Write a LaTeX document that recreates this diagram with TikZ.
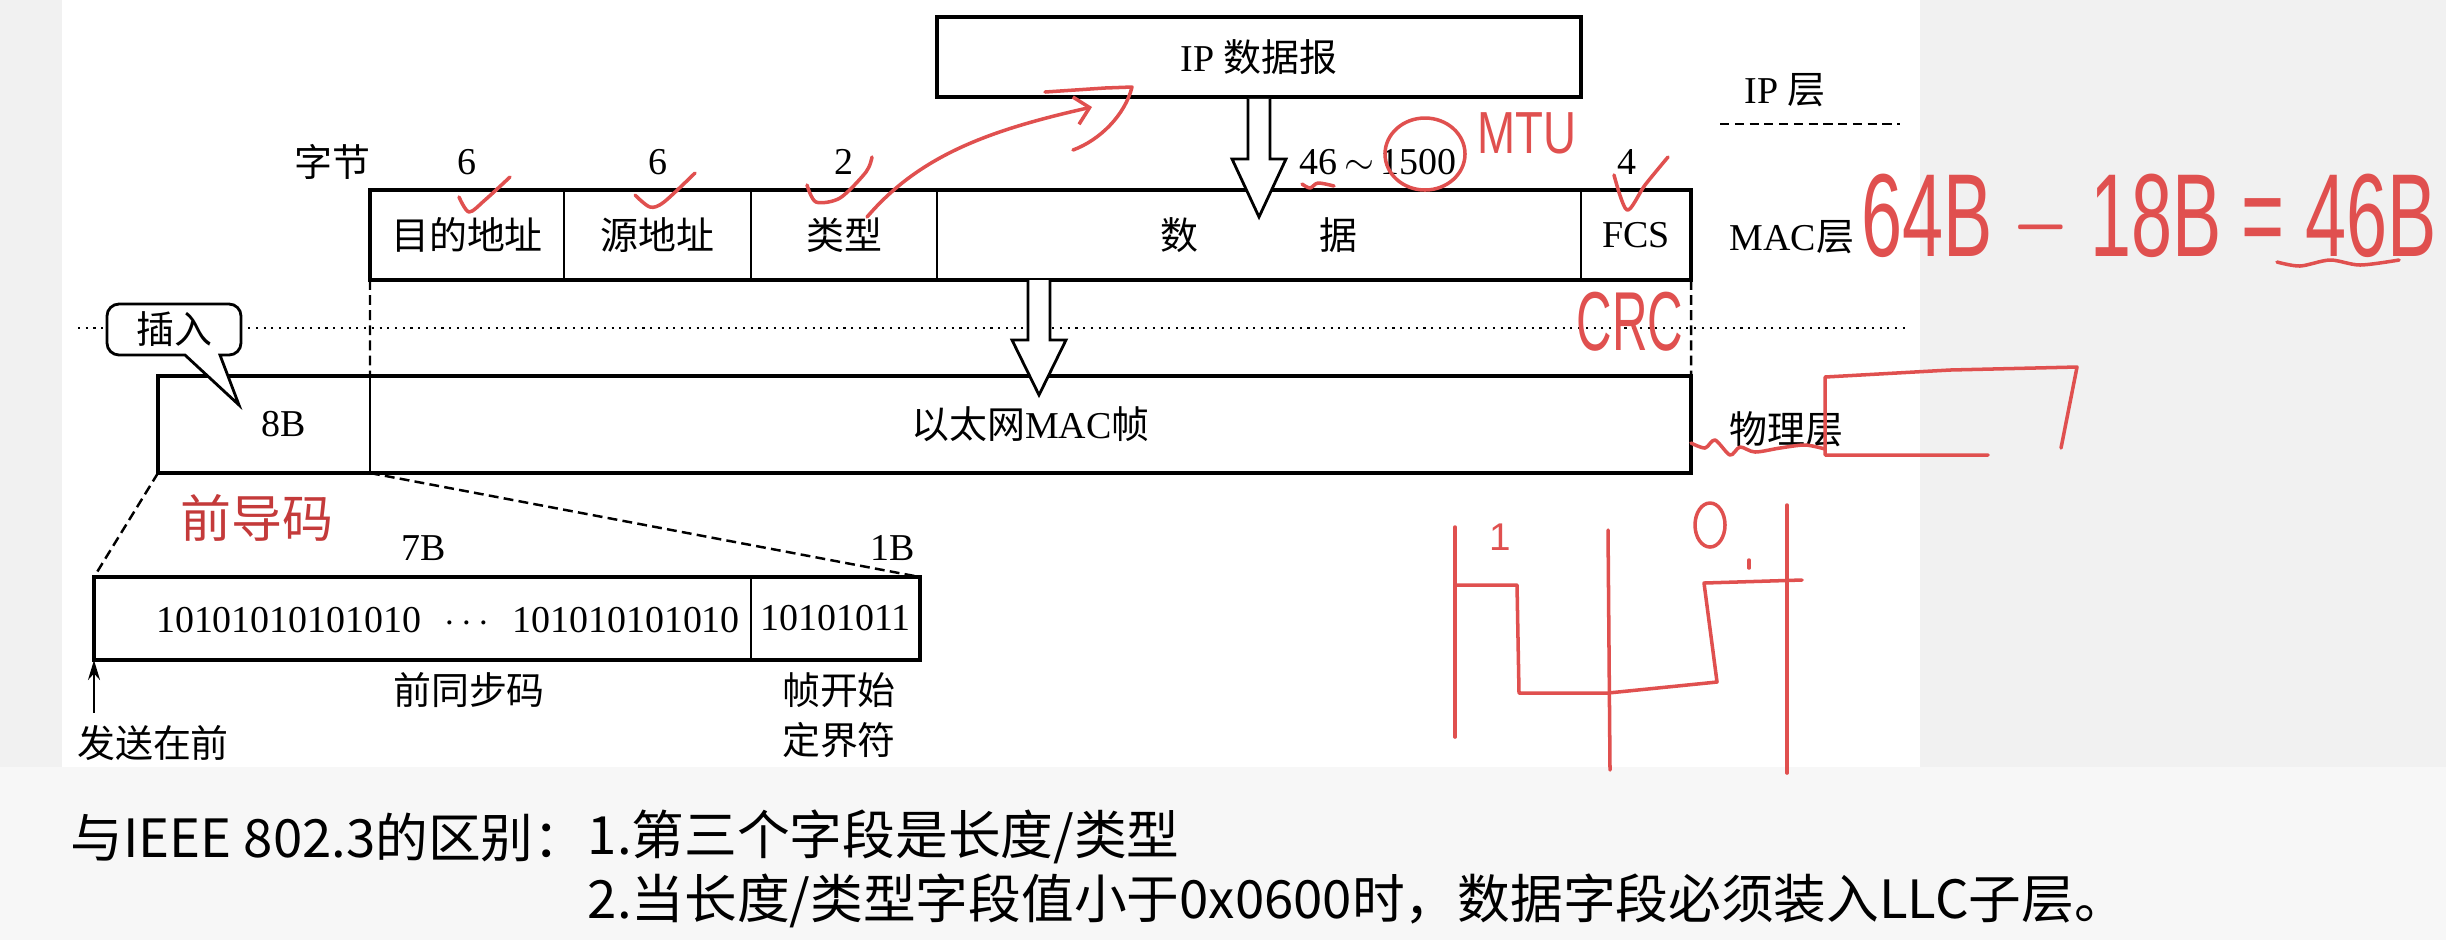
\documentclass[tikz,border=0pt]{standalone}
\usepackage{fontspec}
\setmainfont{Liberation Serif}
\newfontfamily\cjk{Noto Sans CJK SC}
\newfontfamily\hand{Liberation Sans}
\usepackage{graphicx}
\usepackage{tikz}
\usetikzlibrary{positioning,calc,arrows.meta}

\definecolor{sidegray}{HTML}{F1F1F1}
\definecolor{lowgray}{HTML}{F7F7F7}
\definecolor{pen}{HTML}{E0504F}
\definecolor{titlered}{HTML}{C43A3A}

\tikzset{
  field/.style={draw, line width=0.6pt, minimum height=0.9cm, inner sep=0pt, outer sep=0pt, anchor=west},
  frame/.style={draw, line width=1.2pt},
  fat/.style={draw, fill=white, line width=0.8pt, line join=miter},
  guide/.style={line width=0.7pt, dash pattern=on 2.8pt off 1.5pt},
  layerline/.style={line width=0.8pt, dash pattern=on 2.6pt off 1.6pt},
  dots/.style={line width=0.7pt, dash pattern=on 0.6pt off 1.6pt},
  redpen/.style={pen, line width=1pt, line cap=round, line join=round},
  note/.style={inner sep=0pt, font=\cjk\fontsize{15pt}{17pt}\selectfont, anchor=west},
}

\begin{document}
\begin{tikzpicture}[font=\fontsize{10.8pt}{13pt}\selectfont]

        % Page background
        \fill[sidegray] (0,0) rectangle (24.46,-9.40);
        \fill[lowgray] (0,-7.67) rectangle (24.46,-9.40);
        \fill[white] (0.62,0) rectangle (19.20,-7.67);
        \useasboundingbox (0,0) rectangle (24.46,-9.40);

        % IP datagram
        \node[draw, line width=1.1pt, minimum width=6.44cm, minimum height=0.80cm] (ip) at (12.59,-0.57) {IP {\cjk 数据报}};

        % Layer names
        \node (iplayer) at (17.85,-0.90) {IP {\cjk 层}};
        \draw[layerline] (17.20,-1.24) -- (19.00,-1.24);
        \node (maclayer) at (17.92,-2.37) {MAC{\cjk 层}};
        \node (phylayer) at (17.86,-4.29) {\cjk 物理层};

        % MAC frame fields
        \node[field, minimum width=1.94cm] (dst) at (3.70,-2.35) {\cjk 目的地址};
        \node[field, minimum width=1.87cm, right=0pt of dst] (src) {\cjk 源地址};
        \node[field, minimum width=1.86cm, right=0pt of src] (typ) {\cjk 类型};
        \node[field, minimum width=6.44cm, right=0pt of typ] (data) {\cjk 数\hspace{3.2em}据};
        \node[field, minimum width=1.10cm, right=0pt of data] (fcs) {FCS};
        \draw[frame] (dst.north west) rectangle (fcs.south east);

        % Byte counts
        \node (bytes) at (3.32,-1.62) {\cjk 字节};
        \node (ndst) at (dst |- bytes) {6};
        \node (nsrc) at (src |- bytes) {6};
        \node (ntyp) at (typ |- bytes) {2};
        \node (ndata) at (13.78,-1.62) {46$\,\sim\,$1500};
        \node (nfcs) at (16.27,-1.62) {4};

        % Boundary between MAC and physical layer
        \draw[dots] (0.78,-3.28) -- (19.10,-3.28);

        % Physical layer frame
        \node[field, minimum width=2.12cm, minimum height=0.97cm] (pre8) at (1.58,-4.245) {\hspace{0.40cm}8B};
        \node[field, minimum width=13.21cm, minimum height=0.97cm, right=0pt of pre8] (frame) {{\cjk 以太网}MAC{\cjk 帧}};
        \draw[frame] (pre8.north west) rectangle (frame.south east);
        \draw[guide] (dst.south west) -- (frame.north west);
        \draw[guide] (fcs.south east) -- (frame.north east);

        % Hollow arrows
        \draw[fat] ($(ip.south)+(-0.11,0)$) -- ++(0,-0.60) -- ++(-0.16,0) -- ++(0.27,-0.58) -- ++(0.27,0.58) -- ++(-0.16,0) -- ++(0,0.60);
        \draw[fat] ($(data.south west)+(0.91,0)$) -- ++(0,-0.60) -- ++(-0.16,0) -- ++(0.27,-0.55) -- ++(0.27,0.55) -- ++(-0.16,0) -- ++(0,0.60);

        % Insert callout
        \draw[fill=white, line width=0.8pt, rounded corners=0.12cm] (1.85,-3.55) -- (1.07,-3.55) -- (1.07,-3.04) -- (2.41,-3.04) -- (2.41,-3.55) [sharp corners] -- (2.20,-3.55) -- (2.39,-4.05) -- cycle;
        \node (ins) at (1.74,-3.29) {\cjk 插入};

        % Preamble
        \node[field, minimum width=6.57cm, minimum height=0.83cm] (sync) at (0.94,-6.185) {};
        \node[field, minimum width=1.69cm, minimum height=0.83cm, right=0pt of sync] (sfd) {10101011};
        \draw[frame] (sync.north west) rectangle (sfd.south east);
        \node (bits) at (4.48,-6.20) {10101010101010\hspace{0.6em}$\cdots$\hspace{0.6em}101010101010};
        \draw[guide] (pre8.south west) -- (sync.north west);
        \draw[guide] (pre8.south east) -- (sfd.north east);

        \node (n7) at (4.24,-5.48) {7B};
        \node (n1) at (8.93,-5.48) {1B};
        \node (syncname) at (4.69,-6.90) {\cjk 前同步码};
        \node[align=center, font=\fontsize{10.8pt}{14.2pt}\selectfont] (sfdname) at (8.39,-7.15) {\cjk 帧开始\\\cjk 定界符};
        \node (send) at (1.53,-7.43) {\cjk 发送在前};
        \draw[line width=0.6pt, -{Stealth[length=0.2cm, width=0.12cm]}] (sync.south west |- send.north) -- (sync.south west);

        \node[text=titlered, font=\cjk\fontsize{14.5pt}{16pt}\selectfont] (pretitle) at (2.57,-5.18) {前导码};

        % Differences from IEEE 802.3
        \node[note] (diff) at (0.70,-8.37) {与IEEE 802.3的区别：};
        \node[note, right=0pt of diff] (d1) {1.第三个字段是长度/类型};
        \node[note] (d2) at ($(d1.west)+(0,-0.64)$) {2.当长度/类型字段值小于0x0600时，数据字段必须装入LLC子层。};

        % Handwritten marks
        \draw[redpen] plot[smooth] coordinates {(4.59,-1.97) (4.69,-2.12) (4.85,-2.00) (5.10,-1.77)};
        \draw[redpen] plot[smooth] coordinates {(6.35,-1.95) (6.50,-2.07) (6.64,-2.02) (6.95,-1.73)};
        \draw[redpen] plot[smooth] coordinates {(8.07,-1.85) (8.16,-2.02) (8.40,-1.98) (8.66,-1.72) (8.72,-1.57)};
        \draw[redpen] plot[smooth] coordinates {(16.14,-1.75) (16.27,-2.10) (16.45,-1.85) (16.68,-1.57)};
        \draw[redpen, -{Straight Barb[length=0.14cm]}] (8.67,-2.17) .. controls (9.20,-1.55) and (9.90,-1.30) .. (10.92,-1.07);
        \draw[redpen] (10.45,-0.92) -- (11.05,-0.88) -- (11.32,-0.87) .. controls (11.25,-1.15) and (11.00,-1.40) .. (10.73,-1.50);
        \draw[redpen] (14.25,-1.54) ellipse [x radius=0.40, y radius=0.36];
        \draw[redpen] plot[smooth] coordinates {(13.02,-1.84) (13.10,-1.88) (13.18,-1.83) (13.34,-1.86)};
        \node[text=pen, font=\hand\fontsize{13pt}{13pt}\selectfont] (mtu) at (15.27,-1.33) {\scalebox{1}[1.3]{MTU}};
        \node[text=pen, font=\hand\fontsize{14pt}{14pt}\selectfont] (crc) at (16.30,-3.22) {\scalebox{1}[1.7]{CRC}};
        \node[text=pen, font=\hand\fontsize{21pt}{21pt}\selectfont] (calc) at (21.49,-2.20) {\scalebox{1}[1.6]{64B $-$ 18B = 46B}};
        \draw[redpen] plot[smooth] coordinates {(22.77,-2.62) (23.00,-2.66) (23.30,-2.60) (23.60,-2.65) (23.99,-2.60)};

        % Hand-drawn signal
        \draw[redpen] plot[smooth] coordinates {(16.91,-4.43) (17.05,-4.48) (17.15,-4.40) (17.30,-4.55) (17.40,-4.47) (17.55,-4.52) (17.80,-4.48) (18.05,-4.45) (18.25,-4.49)};
        \draw[redpen] (19.88,-4.55) -- (18.25,-4.55) -- (18.25,-3.77) -- (19.50,-3.70) -- (20.77,-3.67) -- (20.61,-4.48);
        \draw[redpen] (14.55,-5.27) -- (14.55,-7.37);
        \draw[redpen] (16.08,-5.30) -- (16.10,-7.70);
        \draw[redpen] (17.87,-5.05) -- (17.87,-7.73);
        \draw[redpen] (14.55,-5.85) -- (15.17,-5.85) -- (15.19,-6.93) -- (16.08,-6.93) -- (17.17,-6.82) -- (17.04,-5.83) -- (18.02,-5.80);
        \node[text=pen, font=\hand\fontsize{11pt}{11pt}\selectfont] (one) at (15.00,-5.37) {1};
        \draw[redpen] (17.10,-5.25) ellipse [x radius=0.15, y radius=0.22];
        \draw[redpen] (17.49,-5.60) -- (17.49,-5.68);

    \end{tikzpicture}
\end{document}
